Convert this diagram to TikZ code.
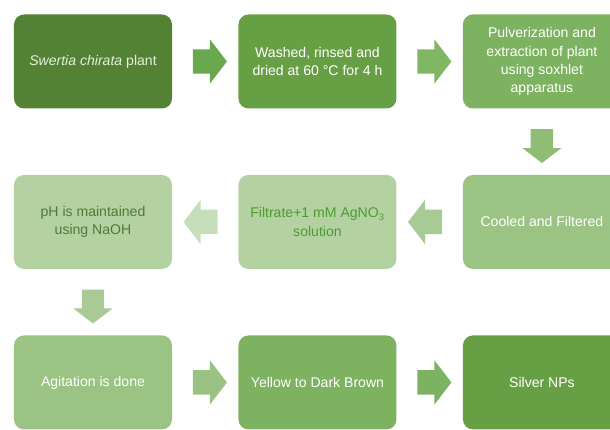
\documentclass[tikz,border=0pt]{standalone}
\usepackage{fontspec}
\setmainfont{Liberation Sans}
\usetikzlibrary{positioning,shapes.arrows}

\definecolor{boxA}{HTML}{548235}
\definecolor{boxB}{HTML}{67A044}
\definecolor{boxC}{HTML}{7CB260}
\definecolor{boxD}{HTML}{9BC384}
\definecolor{boxE}{HTML}{B4D1A2}
\definecolor{txtA}{HTML}{E4EEDC}
\definecolor{txtE}{HTML}{4E9B33}
\definecolor{txtF}{HTML}{4F7B38}
\definecolor{arrA}{HTML}{6AA84F}
\definecolor{arrB}{HTML}{80B764}
\definecolor{arrC}{HTML}{8FBD75}
\definecolor{arrD}{HTML}{A8CB96}
\definecolor{arrE}{HTML}{C7DEBB}
\definecolor{arrF}{HTML}{A9CA97}
\definecolor{arrG}{HTML}{9AC383}
\definecolor{arrH}{HTML}{7CB261}

\begin{document}
\begin{tikzpicture}[
    node distance=1.98cm,
    box/.style={rectangle, rounded corners=0.3cm, align=center, minimum width=4.74cm, minimum height=2.82cm, text=white, font=\fontsize{12}{15.5}\selectfont},
    blockarrow/.style={single arrow, inner xsep=0pt, inner ysep=0.36cm, minimum height=1.02cm, single arrow head extend=0.3cm, single arrow tip angle=105},
    blockdown/.style={blockarrow, shape border rotate=270, inner xsep=0.33cm, inner ysep=0pt, single arrow head extend=0.25cm}
]

\useasboundingbox (0,0) rectangle (18.3,12.87);
\clip (0,0) rectangle (18.3,12.87);

\node[box, fill=boxA, text=txtA] (plant) at (2.79,11.025) {\textit{Swertia chirata} plant};
\node[box, fill=boxB] (washed) [right=of plant] {Washed, rinsed and\\dried at 60 °C for 4 h};
\node[box, fill=boxC] (soxhlet) [right=of washed] {Pulverization and\\extraction of plant\\using soxhlet\\apparatus};
\node[box, fill=boxD] (cooled) [below=of soxhlet] {Cooled and Filtered};
\node[box, fill=boxE, text=txtE] (filtrate) [left=of cooled] {Filtrate+1 mM AgNO\textsubscript{3}\\solution};
\node[box, fill=boxE, text=txtF] (naoh) [left=of filtrate] {pH is maintained\\using NaOH};
\node[box, fill=boxD] (agitation) [below=of naoh] {Agitation is done};
\node[box, fill=boxC] (brown) [right=of agitation] {Yellow to Dark Brown};
\node[box, fill=boxB] (silver) [right=of brown] {Silver NPs};

\path (plant) -- node[blockarrow, fill=arrA] (ar1) {} (washed);
\path (washed) -- node[blockarrow, fill=arrB] (ar2) {} (soxhlet);
\path (soxhlet) -- node[blockdown, fill=arrC] (ar3) {} (cooled);
\path (cooled) -- node[blockarrow, fill=arrD, shape border rotate=180] (ar4) {} (filtrate);
\path (filtrate) -- node[blockarrow, fill=arrE, shape border rotate=180] (ar5) {} (naoh);
\path (naoh) -- node[blockdown, fill=arrF] (ar6) {} (agitation);
\path (agitation) -- node[blockarrow, fill=arrG] (ar7) {} (brown);
\path (brown) -- node[blockarrow, fill=arrH] (ar8) {} (silver);

\end{tikzpicture}
\end{document}
